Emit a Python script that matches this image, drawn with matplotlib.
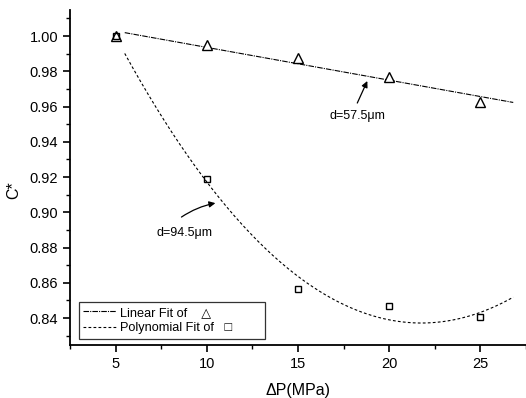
import numpy as np
import matplotlib
matplotlib.use("Agg")
import matplotlib.pyplot as plt
from matplotlib.ticker import MultipleLocator

plt.rcParams['font.family'] = ['Liberation Sans', 'DejaVu Sans']

dp = [5, 10, 15, 20, 25]
c_57 = [1.000, 0.9947, 0.9875, 0.9767, 0.9625]
c_94 = [1.000, 0.919, 0.8564, 0.8468, 0.8405]

fig = plt.figure(figsize=(5.26, 3.98), dpi=100)
ax = fig.add_axes([0.1331, 0.1332, 0.8669, 0.8417])

xf = np.linspace(5.5, 26.8, 200)
lin = np.polyfit(dp, c_57, 1)
quad = np.polyfit(dp, c_94, 2)

nb = '\u00a0'
ax.plot(xf, np.polyval(lin, xf), color='black', lw=0.8, ls=(0, (5, 1, 1, 1)),
        label='Linear Fit of' + nb * 4 + '\u25B3' + nb * 12)
ax.plot(xf, np.polyval(quad, xf), color='black', lw=0.8, ls=(0, (2.5, 2)),
        label='Polynomial Fit of' + nb * 3 + '\u25A1' + nb * 8)
ax.plot(dp, c_57, ls='none', marker='^', ms=7, mfc='white', mec='black', mew=1.0)
ax.plot(dp, c_94, ls='none', marker='s', ms=5, mfc='none', mec='black', mew=1.0)

ax.set_xlim(2.5, 27.5)
ax.set_ylim(0.8247, 1.0148)
ax.xaxis.set_major_locator(MultipleLocator(5))
ax.xaxis.set_minor_locator(MultipleLocator(2.5))
ax.yaxis.set_major_locator(MultipleLocator(0.02))
ax.yaxis.set_minor_locator(MultipleLocator(0.01))
ax.yaxis.set_major_formatter(matplotlib.ticker.FormatStrFormatter('%.2f'))
ax.tick_params(which='major', length=5, width=1.2, labelsize=10.5, direction='out')
ax.tick_params(which='minor', length=3, width=1.0, direction='out')

for s in ['top', 'right']:
    ax.spines[s].set_visible(False)
for s in ['left', 'bottom']:
    ax.spines[s].set_linewidth(1.3)

ax.set_xlabel('\u0394P(MPa)', fontsize=11.5, labelpad=9)
ax.set_ylabel('C*', fontsize=11.5)
ax.yaxis.set_label_coords(-0.107, 0.463)

arrow = dict(arrowstyle='-|>', color='black', lw=0.9, mutation_scale=9,
             shrinkA=0, shrinkB=0)
ax.annotate('', xy=(18.8, 0.9745), xytext=(18.25, 0.962), arrowprops=arrow)
ax.text(16.7, 0.9546, 'd=57.5\u03bcm', fontsize=9, ha='left', va='center')
ax.annotate('', xy=(10.47, 0.9052), xytext=(8.61, 0.8973),
            arrowprops=dict(arrow, connectionstyle='arc3,rad=-0.1'))
ax.text(7.24, 0.8882, 'd=94.5\u03bcm', fontsize=9, ha='left', va='center')

leg = ax.legend(loc='lower left', bbox_to_anchor=(0.005, 0.0), fontsize=9.2,
                frameon=True, fancybox=False, edgecolor='black', handlelength=2.6,
                handletextpad=0.3, borderpad=0.35, labelspacing=0.25)
leg.get_frame().set_linewidth(0.9)

fig.savefig('out.png', dpi=100)
